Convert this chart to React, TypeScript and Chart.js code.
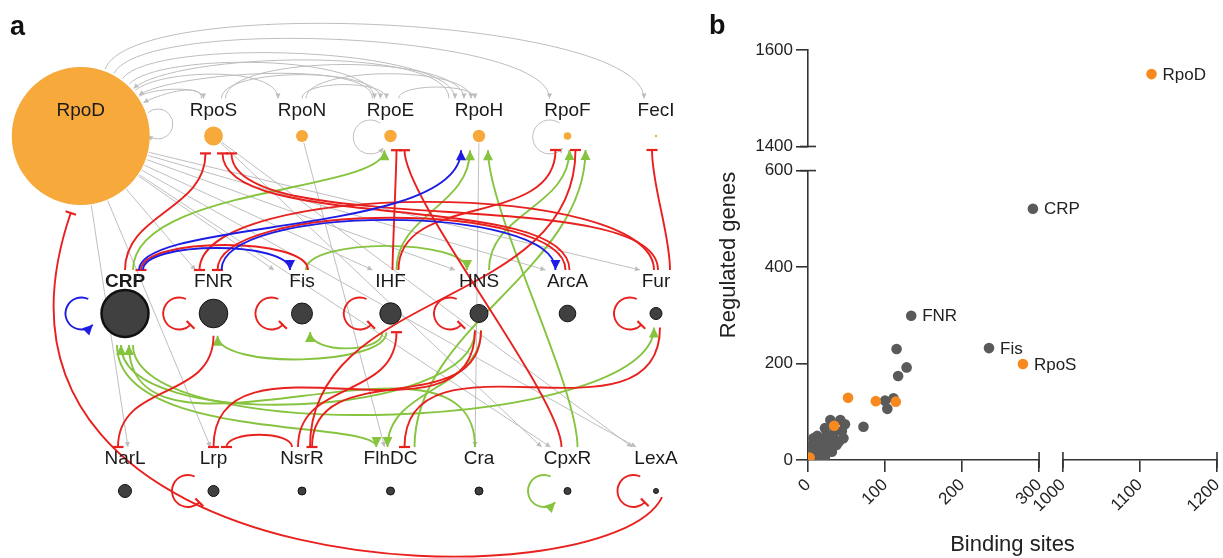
import React, { useEffect, useRef } from 'react';
import { Chart, registerables } from 'chart.js';

Chart.register(...registerables);

const FONT = "'Liberation Sans', Arial, Helvetica, sans-serif";
Chart.defaults.font.family = FONT;

/* ===================== panel a : regulatory network ===================== */
const NODE_NAMES = ['RpoD', 'RpoS', 'RpoN', 'RpoE', 'RpoH', 'RpoF', 'FecI',
  'CRP', 'FNR', 'Fis', 'IHF', 'HNS', 'ArcA', 'Fur',
  'NarL', 'Lrp', 'NsrR', 'FlhDC', 'Cra', 'CpxR', 'LexA'];
const NODE_COLUMN = [-0.5, 1, 2, 3, 4, 5, 6, 0, 1, 2, 3, 4, 5, 6, 0, 1, 2, 3, 4, 5, 6];
const NODE_ROW = [0, 0, 0, 0, 0, 0, 0, 1, 1, 1, 1, 1, 1, 1, 2, 2, 2, 2, 2, 2, 2];
const NODE_RADIUS = [69, 9.4, 6, 6.2, 6.2, 3.8, 1.2, 23.5, 14.3, 10.5, 10.7, 9, 8.3, 6, 6.5, 5.5, 4, 4, 4, 3.5, 2.5];
const SIGMA_FACTORS = ['RpoD', 'RpoS', 'RpoN', 'RpoE', 'RpoH', 'RpoF', 'FecI'];

// [regulator, target, kind]  g = sigma (grey), a = activation, d = dual, r = repression
const LINKS: [string, string, string][] = [
  ['RpoD', 'FNR', 'g'], ['RpoD', 'Fis', 'g'], ['RpoD', 'IHF', 'g'], ['RpoD', 'HNS', 'g'], ['RpoD', 'ArcA', 'g'], ['RpoD', 'Fur', 'g'],
  ['RpoD', 'NarL', 'g'], ['RpoD', 'Lrp', 'g'], ['RpoD', 'CpxR', 'g'], ['RpoD', 'LexA', 'g'],
  ['RpoS', 'CpxR', 'g'], ['RpoS', 'LexA', 'g'], ['RpoN', 'FlhDC', 'g'], ['RpoH', 'Cra', 'g'],
  ['RpoD', 'RpoS', 'g'], ['RpoD', 'RpoN', 'g'], ['RpoD', 'RpoE', 'g'], ['RpoD', 'RpoH', 'g'], ['RpoD', 'RpoF', 'g'], ['RpoD', 'FecI', 'g'],
  ['RpoS', 'RpoE', 'g'], ['RpoS', 'RpoH', 'g'], ['RpoN', 'RpoE', 'g'], ['RpoN', 'RpoH', 'g'], ['RpoE', 'RpoH', 'g'],
  ['RpoS', 'RpoD', 'g'], ['RpoE', 'RpoD', 'g'], ['RpoH', 'RpoD', 'g'],
  ['CRP', 'RpoE', 'a'], ['IHF', 'RpoH', 'a'], ['CpxR', 'RpoH', 'a'], ['HNS', 'RpoF', 'a'], ['FlhDC', 'RpoF', 'a'], ['Fis', 'HNS', 'a'],
  ['IHF', 'FNR', 'a'], ['IHF', 'Fis', 'a'], ['Cra', 'CRP', 'a'], ['CRP', 'FlhDC', 'a'], ['CRP', 'Fur', 'a'], ['HNS', 'FlhDC', 'a'], ['HNS', 'CRP', 'a'],
  ['CRP', 'Fis', 'd'], ['CRP', 'RpoH', 'd'], ['FNR', 'ArcA', 'd'],
  ['CRP', 'RpoS', 'r'], ['ArcA', 'RpoS', 'r'], ['Fur', 'RpoS', 'r'], ['Fis', 'CRP', 'r'], ['ArcA', 'FNR', 'r'], ['Fur', 'FNR', 'r'],
  ['IHF', 'RpoE', 'r'], ['CpxR', 'RpoE', 'r'], ['IHF', 'RpoF', 'r'], ['NsrR', 'RpoF', 'r'], ['Fur', 'FecI', 'r'], ['FNR', 'NarL', 'r'],
  ['NsrR', 'IHF', 'r'], ['HNS', 'Lrp', 'r'], ['NsrR', 'Lrp', 'r'], ['Fur', 'FlhDC', 'r'], ['HNS', 'NsrR', 'r'], ['LexA', 'RpoD', 'r'],
];
const SELF_LOOPS: [string, string][] = [
  ['RpoD', 'g'], ['RpoE', 'g'], ['RpoF', 'g'], ['CRP', 'd'], ['FNR', 'r'], ['Fis', 'r'], ['IHF', 'r'],
  ['HNS', 'r'], ['Fur', 'r'], ['Lrp', 'r'], ['CpxR', 'a'], ['LexA', 'r'],
];

// drawing routes (style): [start anchor, shift, end anchor, shift, bend]
// bend: number (both handles along anchor directions), [b0, b1], or [h1x, h1y, h2x, h2y] explicit handle vectors
const LINK_ROUTES: any[] = [
  ['E', 0, 'T', -18, 0], ['E', 0, 'T', -28, 0], ['E', 0, 'T', -18, 0], ['E', 0, 'T', -24, 0], ['E', 0, 'T', -22, 0], ['E', 0, 'T', -16, 0],
  ['E', 0, 'T', 3, 0], ['E', 0, 'T', -3, 0], ['E', 0, 'T', -17, 0], ['E', 0, 'T', -20, 0],
  ['E', 0, 'T', -26, 0], ['E', 0, 'T', -24, 0], ['E', 0, 'T', -6, 0], ['E', 0, 'T', -4, 0],
  ['C', -34, 'T', -10, 0.22], ['C', -40, 'T', -24, 0.23], ['C', -47, 'T', -16, 0.18], ['C', -54, 'T', -24, 0.155], ['C', -62, 'T', -18, 0.15], ['C', -70, 'T', -12, 0.15],
  ['T', 8, 'T', -10, 0.2], ['T', 12, 'T', -15, 0.19], ['T', 0, 'T', -4, 0.22], ['T', 4, 'T', -8, 0.2], ['T', 8, 'T', -4, 0.2],
  ['T', -12, 'C', -28, 0.3], ['T', -18, 'C', -35, 0.17], ['T', -30, 'C', -42, 0.17],
  ['T', 8, 'B', -6, [0.3, 0.15]], ['T', 6, 'B', -9, 0.4], ['T', 10, 'B', 9, 0.2], ['T', 10, 'B', 2, 0.4], ['T', 24, 'B', 18, 0.35], ['T', 4, 'T', -12, 0.2],
  ['B', -4, 'B', 4, 0.2], ['B', -8, 'B', 8, 0.3], ['T', -4, 'B', 4, 0.4], ['B', -8, 'T', -14, [0.35, 0.1]], ['B', 8, 'B', -2, 0.2], ['B', 2, 'T', -3, 0.4], ['B', -4, 'B', -4, 0.25],
  ['T', 18, 'T', -12, 0.2], ['T', 14, 'B', -18, [0.15, 0.25]], ['T', 8, 'T', -12, 0.2],
  ['T', 0, 'B', -8, 0.4], ['T', 2, 'B', 9, 0.22], ['T', 2, 'B', 18, 0.2], ['T', 6, 'T', 16, 0.2], ['T', -2, 'T', 4, 0.2], ['T', -2, 'T', -14, 0.2],
  ['T', 2, 'B', 6, 0.15], ['T', -6, 'B', 14, 0.15], ['T', 8, 'B', -12, 0.4], ['T', 8, 'B', 8, 0.4], ['T', 14, 'B', -4, 0.3], ['B', 0, 'T', -7, 0.45],
  ['T', -4, 'B', 6, 0.45], ['B', -4, 'T', 0, 0.45], ['T', -10, 'T', 13, 0.25], ['B', 4, 'T', 14, 0.45], ['B', 2, 'T', 10, 0.45],
  ['BR', 0, 'B', -10, [-0.079, 0.1655, -0.2, 0.583]],
];

const LABEL_OFFSET = [25.5, 31.5, 32];
const X_VIEW_A = [-1.41243, 6.49718];
const Y_VIEW_A = [-0.7662, 2.37746];
const ORANGE_A = '#F7A93C';
const DARK_A = '#404040';
const LINK_COLOR: any = { g: '#BDBDBD', a: '#86C440', r: '#E8211E', d: '#1C1CE3' };
const LINK_WIDTH: any = { g: 1, a: 1.9, r: 1.9, d: 1.9 };
const DRAW_ORDER = ['g', 'a', 'r', 'd'];

function nodePix(chart: any, i: number) {
  const x = chart.scales.x.getPixelForValue(NODE_COLUMN[i]);
  const y = chart.scales.y.getPixelForValue(NODE_ROW[i]);
  const r = NODE_RADIUS[i];
  return { x, y, r, ly: y - LABEL_OFFSET[Math.round(NODE_ROW[i])] };
}

function anchor(n: any, kind: string, s: number) {
  if (kind === 'T') return { p: { x: n.x + s, y: n.ly - 12 }, d: { x: 0, y: -1 } };
  if (kind === 'B') return { p: { x: n.x + s, y: n.y + Math.max(n.r, 6) + 8 }, d: { x: 0, y: 1 } };
  if (kind === 'BR') { const k = (n.r + 6) * 0.71; return { p: { x: n.x + k, y: n.y + k }, d: { x: 0.71, y: 0.71 } }; }
  const a = (s * Math.PI) / 180;
  const c = Math.cos(a), sn = Math.sin(a);
  return { p: { x: n.x + (n.r + 2) * c, y: n.y + (n.r + 2) * sn }, d: { x: c, y: sn } };
}
function edgeAnchor(n: any, to: any) {
  const dx = to.x - n.x, dy = to.y - n.y;
  const L = Math.hypot(dx, dy) || 1;
  return { p: { x: n.x + (dx / L) * (n.r + 1), y: n.y + (dy / L) * (n.r + 1) }, d: null as any };
}

function marker(ctx: CanvasRenderingContext2D, p: any, ux: number, uy: number, kind: string) {
  const px = -uy, py = ux;
  ctx.fillStyle = LINK_COLOR[kind];
  ctx.strokeStyle = LINK_COLOR[kind];
  if (kind === 'r') {
    ctx.beginPath();
    ctx.moveTo(p.x + px * 5.5, p.y + py * 5.5);
    ctx.lineTo(p.x - px * 5.5, p.y - py * 5.5);
    ctx.lineWidth = 2.2;
    ctx.stroke();
  } else {
    const L = kind === 'g' ? 5 : 10, W = kind === 'g' ? 2.6 : 5;
    ctx.beginPath();
    ctx.moveTo(p.x, p.y);
    ctx.lineTo(p.x - ux * L + px * W, p.y - uy * L + py * W);
    ctx.lineTo(p.x - ux * L - px * W, p.y - uy * L - py * W);
    ctx.closePath();
    ctx.fill();
  }
}

function drawLoop(ctx: CanvasRenderingContext2D, n: any, kind: string) {
  let cx, cy, R, a0, a1, ccw;
  if (n.r > 40) { // loop on the right of the big node
    R = 15; cx = n.x + n.r + 8; cy = n.y - 12; a0 = 230; a1 = 130; ccw = false;
  } else if (n.ly < n.y - 28) {
    R = 16; cx = n.x - n.r - 20; cy = n.y; a0 = -65; a1 = 45; ccw = true;
  } else {
    R = 17; cx = n.x - n.r - 14; cy = n.y + 1; a0 = -55; a1 = 40; ccw = true;
  }
  const r0 = (a0 * Math.PI) / 180, r1 = (a1 * Math.PI) / 180;
  ctx.beginPath();
  ctx.arc(cx, cy, R, r0, r1, ccw);
  ctx.strokeStyle = LINK_COLOR[kind];
  ctx.lineWidth = LINK_WIDTH[kind];
  ctx.stroke();
  const ex = cx + R * Math.cos(r1), ey = cy + R * Math.sin(r1);
  const ux = ccw ? Math.sin(r1) : -Math.sin(r1);
  const uy = ccw ? -Math.cos(r1) : Math.cos(r1);
  marker(ctx, { x: ex, y: ey }, ux, uy, kind);
}

const networkPlugin = {
  id: 'network',
  beforeDatasetsDraw(chart: any) {
    const ctx: CanvasRenderingContext2D = chart.ctx;
    const pos = NODE_NAMES.map((_, i) => nodePix(chart, i));
    const at = (name: string) => pos[NODE_NAMES.indexOf(name)];
    ctx.save();
    ctx.lineCap = 'butt';
    DRAW_ORDER.forEach((kind) => {
      LINKS.forEach(([src, tgt, k], li) => {
        if (k !== kind) return;
        const [a0, s0, a1, s1, bend] = LINK_ROUTES[li];
        const ns = at(src), nt = at(tgt);
        let A: any = a0 === 'E' ? null : anchor(ns, a0, s0);
        let B: any = a1 === 'E' ? null : anchor(nt, a1, s1);
        if (!A) A = edgeAnchor(ns, B ? B.p : nt);
        if (!B) B = edgeAnchor(nt, A.p);
        const d = Math.hypot(B.p.x - A.p.x, B.p.y - A.p.y);
        let P1: any, P2: any;
        if (Array.isArray(bend) && bend.length === 4) {
          P1 = { x: A.p.x + bend[0] * d, y: A.p.y + bend[1] * d };
          P2 = { x: B.p.x + bend[2] * d, y: B.p.y + bend[3] * d };
        } else {
          const [b0, b1] = Array.isArray(bend) ? bend : [bend, bend];
          P1 = A.d ? { x: A.p.x + A.d.x * b0 * d, y: A.p.y + A.d.y * b0 * d } : A.p;
          P2 = B.d ? { x: B.p.x + B.d.x * b1 * d, y: B.p.y + B.d.y * b1 * d } : B.p;
        }
        ctx.beginPath();
        ctx.moveTo(A.p.x, A.p.y);
        ctx.bezierCurveTo(P1.x, P1.y, P2.x, P2.y, B.p.x, B.p.y);
        ctx.strokeStyle = LINK_COLOR[kind];
        ctx.lineWidth = LINK_WIDTH[kind];
        ctx.stroke();
        let tx = B.p.x - P2.x, ty = B.p.y - P2.y;
        if (Math.hypot(tx, ty) < 1e-3) { tx = B.p.x - A.p.x; ty = B.p.y - A.p.y; }
        const tl = Math.hypot(tx, ty) || 1;
        marker(ctx, B.p, tx / tl, ty / tl, kind);
      });
      SELF_LOOPS.forEach(([name, k]) => { if (k === kind) drawLoop(ctx, at(name), kind); });
    });
    ctx.restore();
  },
  afterDatasetsDraw(chart: any) {
    const ctx: CanvasRenderingContext2D = chart.ctx;
    ctx.save();
    ctx.textAlign = 'center';
    ctx.textBaseline = 'middle';
    ctx.fillStyle = '#1a1a1a';
    NODE_NAMES.forEach((name, i) => {
      const n = nodePix(chart, i);
      ctx.font = `${name === 'CRP' ? 'bold ' : ''}19px ${FONT}`;
      ctx.fillText(name, n.x, n.ly);
    });
    ctx.restore();
  },
};

function networkConfig(): any {
  const isSigma = (i: number) => SIGMA_FACTORS.includes(NODE_NAMES[i]);
  return {
    type: 'scatter',
    data: {
      datasets: [{
        label: 'regulators',
        data: NODE_NAMES.map((name, i) => ({ x: NODE_COLUMN[i], y: NODE_ROW[i], name })),
        pointRadius: (c: any) => NODE_RADIUS[c.dataIndex],
        pointHoverRadius: (c: any) => NODE_RADIUS[c.dataIndex],
        pointBackgroundColor: (c: any) => (isSigma(c.dataIndex) ? ORANGE_A : DARK_A),
        pointBorderColor: (c: any) => (isSigma(c.dataIndex) ? ORANGE_A : '#111111'),
        pointBorderWidth: (c: any) => (NODE_NAMES[c.dataIndex] === 'CRP' ? 2.5 : isSigma(c.dataIndex) ? 0 : 1),
        showLine: false,
        clip: false,
      }],
    },
    options: {
      responsive: false,
      animation: false,
      events: [],
      layout: { padding: 0, autoPadding: false },
      plugins: { legend: { display: false }, tooltip: { enabled: false } },
      scales: {
        x: { type: 'linear', display: false, min: X_VIEW_A[0], max: X_VIEW_A[1] },
        y: { type: 'linear', display: false, min: Y_VIEW_A[0], max: Y_VIEW_A[1], reverse: true },
      },
    },
    plugins: [networkPlugin],
  };
}

/* ===================== panel b : binding sites vs regulated genes ===================== */
const SIGMA_NAMES = ['RpoD', 'RpoS', '', '', '', '', ''];
const SIGMA_BINDING_SITES = [1115, 279, 52, 88, 114, 34, 2];
const SIGMA_REGULATED_GENES = [1550, 199, 129, 122, 121, 71, 5];
const TF_NAMES = ['CRP', 'FNR', 'Fis'];
const TF_BINDING_SITES = [292, 134, 235, 115, 128, 117, 100, 111, 103, 72, 29, 42, 48, 44, 35, 22, 7, 24, 18, 33,
  37, 26, 11, 20, 31, 7, 13, 5, 15, 10, 28, 40, 16, 30, 22, 4, 3, 46, 12];
const TF_REGULATED_GENES = [521, 299, 232, 230, 192, 174, 123, 128, 106, 69, 83, 83, 74, 60, 59, 66, 45, 52, 38, 45,
  31, 28, 24, 14, 17, 7, 2, 31, 20, 12, 40, 38, 32, 25, 6, 15, 3, 45, 50];
const X_LOW_RANGE = [0, 300];
const X_HIGH_RANGE = [1000, 1200];
const Y_LOW_RANGE = [0, 600];
const Y_HIGH_RANGE = [1400, 1600];
const X_TICK_STEP = 100;
const Y_TICK_STEP = 200;

const ORANGE_B = '#F7891F';
const GRAY_B = '#5A5A5A';
const AXIS_COLOR = '#333333';

const scatterPlugin = {
  id: 'scatterExtras',
  afterDatasetsDraw(chart: any) {
    const ctx: CanvasRenderingContext2D = chart.ctx;
    ctx.save();
    ctx.font = `17px ${FONT}`;
    ctx.fillStyle = '#222222';
    ctx.textAlign = 'left';
    ctx.textBaseline = 'middle';
    chart.data.datasets.forEach((ds: any, di: number) => {
      chart.getDatasetMeta(di).data.forEach((el: any, i: number) => {
        const name = ds.data[i].name;
        if (name) ctx.fillText(name, el.x + 11, el.y + 1);
      });
    });
    // end caps at the axis breaks
    const yH = chart.scales.yHigh, yL = chart.scales.yLow, xL = chart.scales.xLow, xH = chart.scales.xHigh;
    ctx.strokeStyle = AXIS_COLOR;
    ctx.lineWidth = 1.6;
    const ax = yL.right;
    [yH.getPixelForValue(yH.min), yL.getPixelForValue(yL.max)].forEach((py: number) => {
      ctx.beginPath(); ctx.moveTo(ax - 8, py); ctx.lineTo(ax + 8, py); ctx.stroke();
    });
    const ay = xL.top;
    [xL.getPixelForValue(xL.max), xH.getPixelForValue(xH.min), xH.getPixelForValue(xH.max)].forEach((px: number) => {
      ctx.beginPath(); ctx.moveTo(px, ay - 8); ctx.lineTo(px, ay + 8); ctx.stroke();
    });
    ctx.restore();
  },
};

function scatterConfig(): any {
  const pts = (xs: number[], ys: number[], names: string[]) => xs.map((x, i) => ({ x, y: ys[i], name: names[i] || '' }));
  const sigma = pts(SIGMA_BINDING_SITES, SIGMA_REGULATED_GENES, SIGMA_NAMES);
  const tf = pts(TF_BINDING_SITES, TF_REGULATED_GENES, TF_NAMES);
  const high = (p: any) => p.x >= X_HIGH_RANGE[0];
  const dots = (color: string) => ({ pointRadius: 5.3, pointHoverRadius: 5.3, pointBackgroundColor: color, pointBorderWidth: 0, showLine: false });
  const tickFont = { family: FONT, size: 17 };
  const axis = (range: number[], step: number, rotate: boolean) => ({
    type: 'linear',
    display: true,
    min: range[0],
    max: range[1],
    ticks: {
      stepSize: step, color: '#222222', font: tickFont, padding: 3, autoSkip: false,
      callback: (v: any) => String(v),
      ...(rotate ? { minRotation: 45, maxRotation: 45 } : {}),
    },
    grid: { display: true, drawOnChartArea: false, drawTicks: true, tickLength: 12, color: AXIS_COLOR, lineWidth: 1.6 },
    border: { display: true, color: AXIS_COLOR, width: 1.6 },
  });
  const blank = {
    type: 'linear', display: true, ticks: { display: false },
    grid: { display: false, drawTicks: false }, border: { display: false },
  };
  const titleFont = { family: FONT, size: 22 };
  const yw = (s: any) => { s.width = 64; };
  const xh = (s: any) => { s.height = 65; s.paddingRight = 0; };
  return {
    type: 'scatter',
    data: {
      datasets: [
        { label: 'sigma factors', data: sigma.filter(high), xAxisID: 'xHigh', yAxisID: 'yHigh', ...dots(ORANGE_B) },
        { label: 'sigma factors ', data: sigma.filter((p) => !high(p)), xAxisID: 'xLow', yAxisID: 'yLow', ...dots(ORANGE_B) },
        { label: 'transcription factors', data: tf, xAxisID: 'xLow', yAxisID: 'yLow', ...dots(GRAY_B) },
      ],
    },
    options: {
      responsive: false,
      animation: false,
      events: [],
      layout: { padding: { top: 50, right: 6, bottom: 0, left: 0 } },
      plugins: { legend: { display: false }, tooltip: { enabled: false } },
      scales: {
        yTitle: {
          ...blank, position: 'left', weight: 10,
          title: { display: true, text: 'Regulated genes', color: '#222222', font: titleFont, padding: { top: 16, bottom: 0 } },
          afterFit: (s: any) => { s.width = 44; },
        },
        yLow: { ...axis(Y_LOW_RANGE, Y_TICK_STEP, false), position: 'left', stack: 'yaxis', stackWeight: Y_LOW_RANGE[1] - Y_LOW_RANGE[0], afterFit: yw },
        yGap: { ...blank, position: 'left', stack: 'yaxis', stackWeight: 50, afterFit: yw },
        yHigh: { ...axis(Y_HIGH_RANGE, Y_TICK_STEP, false), position: 'left', stack: 'yaxis', stackWeight: Y_HIGH_RANGE[1] - Y_HIGH_RANGE[0], afterFit: yw },
        xLow: { ...axis(X_LOW_RANGE, X_TICK_STEP, true), position: 'bottom', stack: 'xaxis', stackWeight: X_LOW_RANGE[1] - X_LOW_RANGE[0], afterFit: xh },
        xGap: { ...blank, position: 'bottom', stack: 'xaxis', stackWeight: 31, afterFit: xh },
        xHigh: { ...axis(X_HIGH_RANGE, X_TICK_STEP, true), position: 'bottom', stack: 'xaxis', stackWeight: X_HIGH_RANGE[1] - X_HIGH_RANGE[0], afterFit: xh },
        xTitle: {
          ...blank, position: 'bottom', weight: 10,
          title: { display: true, text: 'Binding sites', color: '#222222', font: titleFont, padding: { top: 0, bottom: 0 } },
          afterFit: (s: any) => { s.height = 33; },
        },
      },
    },
    plugins: [scatterPlugin],
  };
}

export default function App() {
  const refA = useRef<HTMLCanvasElement>(null);
  const refB = useRef<HTMLCanvasElement>(null);
  useEffect(() => {
    const a = new Chart(refA.current as HTMLCanvasElement, networkConfig());
    const b = new Chart(refB.current as HTMLCanvasElement, scatterConfig());
    return () => { a.destroy(); b.destroy(); };
  }, []);
  const letter: any = { position: 'absolute', fontFamily: FONT, fontWeight: 'bold', fontSize: 27, lineHeight: '26px', color: '#111' };
  return (
    <div style={{ position: 'absolute', left: 0, top: 0, width: 1223, height: 558, background: '#ffffff', overflow: 'hidden' }}>
      <canvas ref={refA} width={700} height={558} style={{ position: 'absolute', left: 0, top: 0, width: 700, height: 558 }} />
      <canvas ref={refB} width={523} height={558} style={{ position: 'absolute', left: 700, top: 0, width: 523, height: 558 }} />
      <div style={{ ...letter, left: 10, top: 13 }}>a</div>
      <div style={{ ...letter, left: 709, top: 12 }}>b</div>
    </div>
  );
}
